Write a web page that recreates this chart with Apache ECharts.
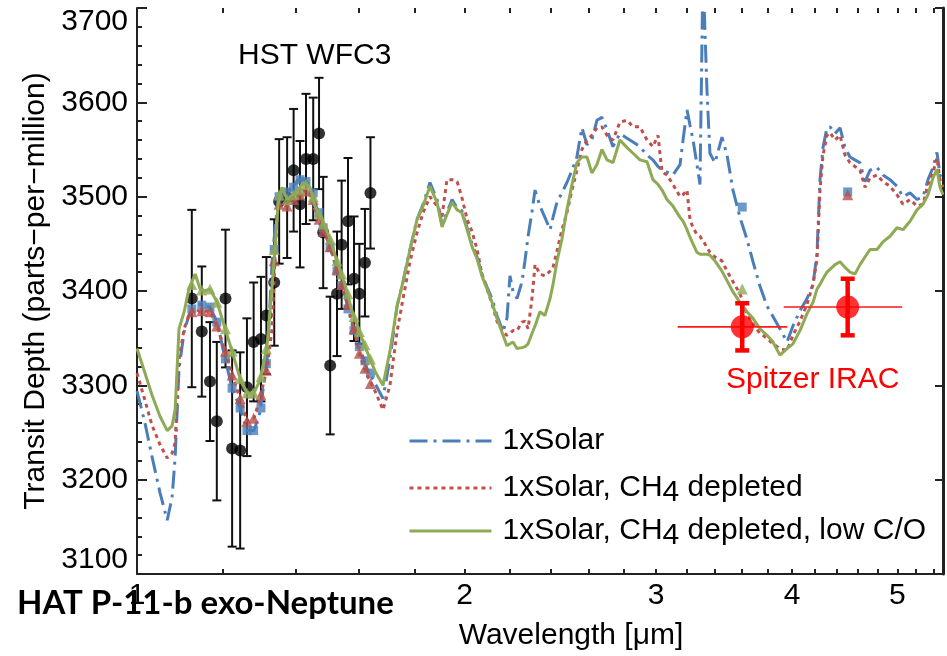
<!DOCTYPE html>
<html>
<head>
<meta charset="utf-8">
<title>HAT-P-11b transmission spectrum</title>
<script src="https://cdn.jsdelivr.net/npm/echarts@6/dist/echarts.min.js"></script>
<style>
  html, body { margin: 0; padding: 0; background: #ffffff; }
  #chart { width: 947px; height: 656px; }
</style>
</head>
<body>
<div id="chart"></div>
<script>
// Model wavelength grid (µm), shared by the three model spectra
const wavelength = [1.000, 1.017, 1.032, 1.050, 1.066, 1.077, 1.084, 1.093, 1.105, 1.116, 1.131, 1.143, 1.152, 1.167, 1.185, 1.205, 1.223, 1.244, 1.262, 1.281, 1.297, 1.317, 1.331, 1.339, 1.348, 1.359, 1.374, 1.391, 1.406, 1.421, 1.442, 1.457, 1.479, 1.505, 1.530, 1.553, 1.576, 1.603, 1.627, 1.655, 1.683, 1.708, 1.734, 1.756, 1.782, 1.809, 1.832, 1.859, 1.887, 1.907, 1.927, 1.948, 1.969, 1.989, 2.011, 2.032, 2.054, 2.075, 2.098, 2.120, 2.142, 2.170, 2.188, 2.202, 2.216, 2.235, 2.259, 2.273, 2.288, 2.307, 2.322, 2.346, 2.371, 2.397, 2.412, 2.432, 2.458, 2.484, 2.511, 2.537, 2.564, 2.592, 2.619, 2.647, 2.675, 2.704, 2.738, 2.779, 2.821, 2.857, 2.899, 2.943, 2.980, 3.012, 3.038, 3.070, 3.109, 3.156, 3.176, 3.203, 3.223, 3.244, 3.271, 3.292, 3.313, 3.327, 3.341, 3.362, 3.398, 3.449, 3.486, 3.530, 3.583, 3.636, 3.683, 3.738, 3.794, 3.842, 3.899, 3.958, 4.008, 4.068, 4.129, 4.182, 4.217, 4.244, 4.271, 4.307, 4.335, 4.381, 4.428, 4.475, 4.522, 4.570, 4.619, 4.668, 4.718, 4.788, 4.849, 4.922, 4.995, 5.059, 5.135, 5.211, 5.278, 5.334, 5.391, 5.436, 5.471, 5.506];

// Transit depth (ppm) of the solar-composition model
const solar = [3294, 3260, 3225, 3186, 3157, 3181, 3223, 3318, 3357, 3374, 3384, 3386, 3384, 3383, 3367, 3328, 3297, 3276, 3252, 3252, 3271, 3326, 3431, 3465, 3497, 3504, 3505, 3510, 3518, 3517, 3514, 3494, 3473, 3446, 3418, 3395, 3365, 3339, 3318, 3302, 3286, 3328, 3384, 3410, 3444, 3476, 3492, 3515, 3497, 3471, 3483, 3497, 3488, 3485, 3467, 3450, 3436, 3418, 3404, 3392, 3374, 3357, 3371, 3416, 3400, 3392, 3410, 3432, 3458, 3484, 3507, 3490, 3478, 3465, 3478, 3494, 3504, 3515, 3528, 3542, 3573, 3555, 3560, 3581, 3584, 3571, 3553, 3567, 3562, 3558, 3553, 3544, 3539, 3532, 3528, 3526, 3523, 3534, 3560, 3592, 3576, 3560, 3534, 3513, 3739, 3739, 3613, 3546, 3536, 3563, 3544, 3507, 3478, 3455, 3431, 3405, 3384, 3373, 3360, 3346, 3363, 3379, 3392, 3407, 3439, 3518, 3552, 3573, 3574, 3567, 3573, 3552, 3542, 3539, 3536, 3516, 3528, 3531, 3523, 3518, 3511, 3500, 3504, 3497, 3500, 3518, 3531, 3547, 3523, 3516];

// Solar composition with methane depleted
const ch4Depleted = [3313, 3284, 3258, 3237, 3223, 3228, 3239, 3328, 3360, 3374, 3381, 3378, 3379, 3378, 3363, 3336, 3311, 3286, 3262, 3265, 3286, 3318, 3360, 3434, 3492, 3492, 3490, 3497, 3502, 3507, 3504, 3486, 3468, 3447, 3420, 3395, 3368, 3332, 3311, 3294, 3274, 3300, 3357, 3392, 3431, 3462, 3483, 3500, 3490, 3479, 3518, 3518, 3516, 3499, 3476, 3463, 3444, 3418, 3402, 3386, 3368, 3357, 3353, 3355, 3358, 3358, 3367, 3368, 3360, 3392, 3428, 3418, 3416, 3421, 3425, 3442, 3465, 3483, 3507, 3528, 3550, 3560, 3565, 3573, 3574, 3565, 3560, 3579, 3581, 3574, 3574, 3560, 3553, 3565, 3526, 3523, 3513, 3500, 3502, 3507, 3476, 3467, 3460, 3458, 3453, 3450, 3446, 3441, 3436, 3432, 3421, 3410, 3397, 3376, 3365, 3355, 3350, 3344, 3339, 3337, 3353, 3368, 3386, 3407, 3434, 3507, 3544, 3565, 3568, 3560, 3565, 3544, 3536, 3532, 3528, 3510, 3520, 3523, 3516, 3511, 3502, 3492, 3497, 3490, 3492, 3513, 3526, 3541, 3518, 3510];

// Methane depleted with a low C/O ratio
const lowCO = [3339, 3313, 3290, 3267, 3252, 3257, 3274, 3360, 3378, 3402, 3418, 3402, 3400, 3402, 3388, 3360, 3336, 3307, 3292, 3292, 3305, 3342, 3405, 3444, 3492, 3510, 3497, 3502, 3507, 3515, 3510, 3490, 3476, 3455, 3428, 3407, 3379, 3355, 3336, 3315, 3300, 3336, 3384, 3410, 3444, 3476, 3490, 3511, 3494, 3468, 3481, 3494, 3486, 3483, 3465, 3447, 3434, 3416, 3402, 3388, 3371, 3353, 3342, 3344, 3346, 3339, 3340, 3341, 3344, 3355, 3363, 3378, 3374, 3392, 3407, 3431, 3455, 3486, 3513, 3536, 3542, 3542, 3525, 3534, 3550, 3539, 3536, 3560, 3552, 3546, 3539, 3537, 3518, 3513, 3507, 3497, 3490, 3478, 3474, 3465, 3457, 3450, 3441, 3439, 3439, 3439, 3439, 3438, 3432, 3421, 3411, 3399, 3388, 3378, 3371, 3360, 3353, 3346, 3332, 3339, 3344, 3358, 3376, 3388, 3402, 3407, 3413, 3420, 3423, 3428, 3431, 3425, 3420, 3418, 3428, 3436, 3444, 3444, 3452, 3458, 3467, 3465, 3474, 3486, 3492, 3502, 3520, 3529, 3510, 3502];

// HST WFC3 spectrum
const hstWavelength = [1.123, 1.147, 1.167, 1.184, 1.206, 1.223, 1.244, 1.262, 1.280, 1.300, 1.315, 1.337, 1.351, 1.374, 1.393, 1.412, 1.430, 1.452, 1.470, 1.483, 1.505, 1.527, 1.542, 1.563, 1.583, 1.601, 1.620, 1.639];
const hstDepth = [3392, 3357, 3304, 3262, 3392, 3233, 3231, 3298, 3346, 3349, 3374, 3409, 3495, 3499, 3528, 3492, 3540, 3540, 3567, 3462, 3321, 3397, 3449, 3474, 3413, 3397, 3430, 3504];
const hstError = [94, 69, 63, 84, 73, 104, 104, 73, 63, 66, 62, 67, 66, 64, 65, 67, 69, 65, 59, 59, 73, 66, 68, 67, 66, 53, 57, 59];

// Models averaged over the HST spectral bins
const binSolar = [3381, 3385, 3383, 3367, 3328, 3297, 3276, 3252, 3252, 3276, 3323, 3444, 3500, 3505, 3510, 3518, 3516, 3504, 3483, 3467, 3446, 3421, 3406, 3381, 3358, 3341, 3326, 3313];
const binCh4 = [3378, 3379, 3378, 3363, 3336, 3311, 3286, 3262, 3265, 3290, 3316, 3432, 3492, 3490, 3497, 3502, 3506, 3497, 3476, 3463, 3447, 3423, 3407, 3386, 3360, 3334, 3318, 3302];
const binLowCO = [3407, 3401, 3402, 3388, 3360, 3336, 3307, 3292, 3292, 3309, 3339, 3444, 3502, 3497, 3502, 3507, 3513, 3500, 3482, 3471, 3455, 3432, 3418, 3397, 3373, 3357, 3343, 3328];

// Spitzer IRAC photometry (3.6 and 4.5 µm channels)
const iracWavelength = [3.6, 4.5];
const iracDepth = [3362, 3383];
const iracError = [25, 30];
const iracBandLow = [3.14, 3.93];
const iracBandHigh = [3.96, 5.05];

// Models averaged over the IRAC bands
const iracSolar = [3489, 3505];
const iracCh4 = [3502];
const iracCh4Wavelength = [4.5];
const iracLowCO = [3402];
const iracLowCOWavelength = [3.6];

// Axis ticks
const xTickValues = [1.2, 1.4, 1.6, 1.8, 2.0, 2.2, 2.4, 2.6, 2.8, 3.0, 3.2, 3.4, 3.6, 3.8, 4.0, 4.2, 4.4, 4.6, 4.8, 5.0, 5.2, 5.4];
const xLabelValues = [1, 2, 3, 4, 5];

const FONT = '"Liberation Sans", Arial, Helvetica, sans-serif';
const BLUE = '#4A7EBB';
const RED = '#C0504D';
const GREEN = '#8EAA55';
const AXIS = '#222222';

const NAME_SOLAR = '1xSolar';
const NAME_CH4 = '1xSolar, CH4 depleted';
const NAME_LOWCO = '1xSolar, CH4 depleted, low C/O';

const pairs = (xs, ys) => xs.map((x, i) => [x, ys[i]]);

// One legend row per model, so each row sits exactly where it should
const legendRow = (name, top) => ({
  orient: 'vertical', left: 403, top: top,
  itemWidth: 82, itemHeight: 14, itemGap: 0,
  selectedMode: false,
  data: [name],
  itemStyle: { color: 'rgba(0,0,0,0)', borderWidth: 0, opacity: 0 },
  lineStyle: { width: 3 },
  formatter: n => n.indexOf('CH4') >= 0
    ? '{a|\u2009' + n.replace('CH4', 'CH}{s|4}{a|') + '}'
    : '{a|\u2009' + n + '}{s| }',
  textStyle: {
    fontFamily: FONT, fontSize: 30, color: '#000',
    rich: {
      a: { fontFamily: FONT, fontSize: 30, color: '#000' },
      s: { fontFamily: FONT, fontSize: 30, color: '#000', padding: [10, 0, 0, 0] }
    }
  }
});

const chart = echarts.init(document.getElementById('chart'), null, { renderer: 'canvas' });

const option = {
  animation: false,
  backgroundColor: '#ffffff',
  textStyle: { fontFamily: FONT },
  grid: { left: 137, right: 4, top: 8, bottom: 79 },
  xAxis: [
    {
      type: 'log', logBase: 10, min: 1, max: 5.506, position: 'bottom',
      name: 'Wavelength [μm]', nameLocation: 'middle', nameGap: 47,
      nameTextStyle: { fontFamily: FONT, fontSize: 30, color: '#000', padding: [0, 0, 0, 62] },
      axisLine: { show: true, lineStyle: { color: AXIS, width: 2 } },
      axisTick: { show: true, inside: true, length: 5, customValues: xTickValues, lineStyle: { color: AXIS, width: 2 } },
      axisLabel: { show: true, customValues: xLabelValues, margin: 7, fontFamily: FONT, fontSize: 30, color: '#000' },
      splitLine: { show: false }, minorTick: { show: false }
    },
    {
      type: 'log', logBase: 10, min: 1, max: 5.506, position: 'top',
      axisLine: { show: false },
      axisTick: { show: true, inside: true, length: 5, customValues: xTickValues, lineStyle: { color: AXIS, width: 2 } },
      axisLabel: { show: false },
      splitLine: { show: false }
    }
  ],
  yAxis: [
    {
      type: 'value', min: 3100, max: 3700, interval: 100, position: 'left',
      name: 'Transit Depth (parts\u2212per\u2212million)', nameLocation: 'middle', nameGap: 77, nameRotate: 90,
      nameTextStyle: { fontFamily: FONT, fontSize: 30, color: '#000' },
      axisLine: { show: true, lineStyle: { color: AXIS, width: 2 } },
      axisTick: { show: true, inside: true, length: 10, lineStyle: { color: AXIS, width: 2 } },
      minorTick: { show: true, splitNumber: 5, length: 5, lineStyle: { color: AXIS, width: 2 } },
      axisLabel: { show: true, margin: 9, fontFamily: FONT, fontSize: 30, lineHeight: 28, color: '#000',
                   formatter: v => String(v),
                   verticalAlignMaxLabel: 'top', verticalAlignMinLabel: 'bottom' },
      splitLine: { show: false }
    },
    {
      type: 'value', min: 3100, max: 3700, interval: 100, position: 'right',
      axisLine: { show: true, lineStyle: { color: AXIS, width: 3 } },
      axisTick: { show: true, inside: true, length: 8, lineStyle: { color: AXIS, width: 2 } },
      axisLabel: { show: false },
      splitLine: { show: false }
    }
  ],
  legend: [
    legendRow(NAME_SOLAR, 421),
    legendRow(NAME_CH4, 468),
    legendRow(NAME_LOWCO, 511)
  ],
  graphic: [
    { type: 'text', left: 238, top: 41, z: 50,
      style: { text: 'HST WFC3', font: '30px "Liberation Sans", Arial, sans-serif', fill: '#000' } },
    { type: 'text', left: 726, top: 365, z: 50,
      style: { text: 'Spitzer IRAC', font: '30px "Liberation Sans", Arial, sans-serif', fill: '#ff0000' } },
    { type: 'text', left: 17, top: 587, z: 50,
      style: { text: 'HAT P-11-b exo-Neptune', font: 'bold 33px Lato, "Open Sans", sans-serif', fill: '#000' } }
  ],
  series: [
    // HST error bars
    {
      type: 'custom', name: 'hst-err', xAxisIndex: 0, yAxisIndex: 0, z: 2,
      data: hstWavelength.map((w, i) => [w, hstDepth[i] - hstError[i], hstDepth[i] + hstError[i]]),
      encode: { x: 0, y: [1, 2] },
      renderItem: (params, api) => {
        const lo = api.coord([api.value(0), api.value(1)]);
        const hi = api.coord([api.value(0), api.value(2)]);
        const c = 4.5;
        const st = { stroke: '#111', lineWidth: 2 };
        return { type: 'group', children: [
          { type: 'line', shape: { x1: lo[0], y1: lo[1], x2: hi[0], y2: hi[1] }, style: st },
          { type: 'line', shape: { x1: lo[0] - c, y1: lo[1], x2: lo[0] + c, y2: lo[1] }, style: st },
          { type: 'line', shape: { x1: hi[0] - c, y1: hi[1], x2: hi[0] + c, y2: hi[1] }, style: st }
        ] };
      }
    },
    {
      type: 'scatter', name: 'hst', xAxisIndex: 0, yAxisIndex: 0, z: 2,
      data: pairs(hstWavelength, hstDepth), symbol: 'circle', symbolSize: 12,
      itemStyle: { color: '#000' }
    },
    {
      type: 'line', name: NAME_SOLAR, xAxisIndex: 0, yAxisIndex: 0, z: 3,
      data: pairs(wavelength, solar), showSymbol: false, symbol: 'none', clip: true,
      lineStyle: { color: BLUE, width: 3, type: [18, 6, 3, 6] }, itemStyle: { color: BLUE }
    },
    {
      type: 'scatter', name: 'bin-solar', xAxisIndex: 0, yAxisIndex: 0, z: 3,
      data: pairs(hstWavelength, binSolar).concat(pairs(iracWavelength, iracSolar)),
      symbol: 'rect', symbolSize: 9, itemStyle: { color: BLUE }
    },
    {
      type: 'line', name: NAME_CH4, xAxisIndex: 0, yAxisIndex: 0, z: 4,
      data: pairs(wavelength, ch4Depleted), showSymbol: false, symbol: 'none', clip: true,
      lineStyle: { color: RED, width: 3, type: [4, 4] }, itemStyle: { color: RED }
    },
    {
      type: 'scatter', name: 'bin-ch4', xAxisIndex: 0, yAxisIndex: 0, z: 4,
      data: pairs(hstWavelength, binCh4).concat(pairs(iracCh4Wavelength, iracCh4)),
      symbol: 'triangle', symbolSize: 11, itemStyle: { color: '#B5504B' }
    },
    {
      type: 'line', name: NAME_LOWCO, xAxisIndex: 0, yAxisIndex: 0, z: 5,
      data: pairs(wavelength, lowCO), showSymbol: false, symbol: 'none', clip: true,
      lineStyle: { color: GREEN, width: 3, type: 'solid' }, itemStyle: { color: GREEN }
    },
    {
      type: 'scatter', name: 'bin-lowco', xAxisIndex: 0, yAxisIndex: 0, z: 5,
      data: pairs(hstWavelength, binLowCO).concat(pairs(iracLowCOWavelength, iracLowCO)),
      symbol: 'triangle', symbolSize: 11, itemStyle: { color: GREEN }
    },
    // Spitzer band widths and error bars
    {
      type: 'custom', name: 'irac-err', xAxisIndex: 0, yAxisIndex: 0, z: 6,
      data: iracWavelength.map((w, i) => [w, iracDepth[i], iracError[i], iracBandLow[i], iracBandHigh[i]]),
      encode: { x: [0, 3, 4], y: 1 },
      renderItem: (params, api) => {
        const w = api.value(0), d = api.value(1), e = api.value(2);
        const left = api.coord([api.value(3), d]);
        const right = api.coord([api.value(4), d]);
        const lo = api.coord([w, d - e]);
        const hi = api.coord([w, d + e]);
        const c = 7;
        const bar = { stroke: '#ff0000', lineWidth: 4.5 };
        return { type: 'group', children: [
          { type: 'line', shape: { x1: left[0], y1: left[1], x2: right[0], y2: right[1] },
            style: { stroke: '#ff1a1a', lineWidth: 1.6 } },
          { type: 'line', shape: { x1: lo[0], y1: lo[1], x2: hi[0], y2: hi[1] }, style: bar },
          { type: 'line', shape: { x1: lo[0] - c, y1: lo[1], x2: lo[0] + c, y2: lo[1] }, style: bar },
          { type: 'line', shape: { x1: hi[0] - c, y1: hi[1], x2: hi[0] + c, y2: hi[1] }, style: bar }
        ] };
      }
    },
    {
      type: 'scatter', name: 'irac', xAxisIndex: 0, yAxisIndex: 0, z: 7,
      data: pairs(iracWavelength, iracDepth), symbol: 'circle', symbolSize: 23,
      itemStyle: { color: '#ff0000' }
    }
  ]
};

chart.setOption(option);
</script>
</body>
</html>
